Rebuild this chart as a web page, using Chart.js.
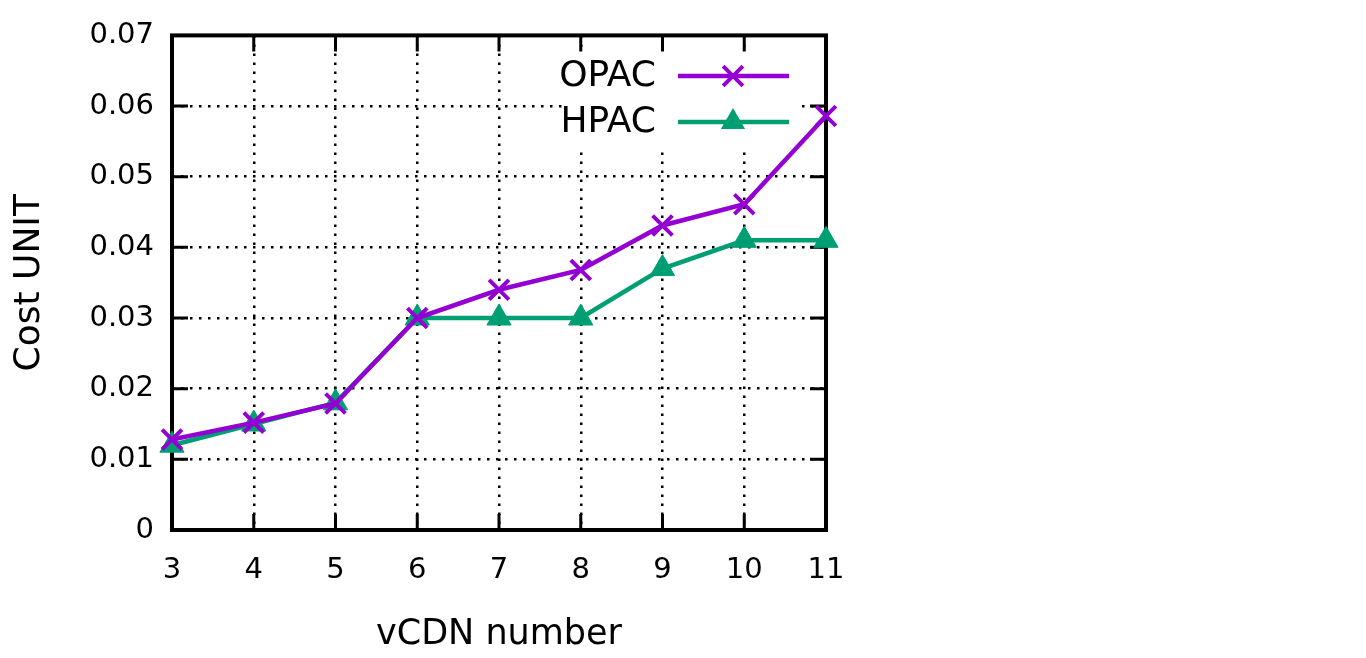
<!DOCTYPE html>
<html>
<head>
<meta charset="utf-8">
<script src="https://cdn.jsdelivr.net/npm/chart.js@4/dist/chart.umd.min.js"></script>
<style>
  html, body { margin: 0; padding: 0; background: #fff; }
</style>
</head>
<body>
<canvas id="myChart" width="1366" height="658"></canvas>
<script>
// values
const vcdnNumbers = ['3', '4', '5', '6', '7', '8', '9', '10', '11'];
const opacCost = [0.0128, 0.0152, 0.0179, 0.0300, 0.0340, 0.0368, 0.0431, 0.0461, 0.0586];
const hpacCost = [0.0120, 0.0150, 0.0180, 0.0300, 0.0300, 0.0300, 0.0370, 0.0410, 0.0410];
const yTickLabels = ['0', '0.01', '0.02', '0.03', '0.04', '0.05', '0.06', '0.07'];

const purple = '#9400d3';
const green = '#009e73';
const fontName = '"DejaVu Sans", Verdana, sans-serif';

// gnuplot style frame: thick border, inward ticks on all four sides, opaque key box
const gnuplotFrame = {
  id: 'gnuplotFrame',
  beforeDatasetsDraw(chart) {
    const ctx = chart.ctx;
    const a = chart.chartArea;
    const xs = chart.scales.x, ys = chart.scales.y;
    ctx.save();
    // key box hides the grid behind it
    ctx.fillStyle = '#fff';
    ctx.fillRect(562, 51, 238, 96);

    ctx.strokeStyle = '#000';
    ctx.lineWidth = 3;
    ctx.beginPath();
    const tl = 16;
    ys.ticks.forEach(t => {
      const y = ys.getPixelForValue(t.value);
      ctx.moveTo(a.left, y); ctx.lineTo(a.left + tl, y);
      ctx.moveTo(a.right, y); ctx.lineTo(a.right - tl, y);
    });
    xs.ticks.forEach((t, i) => {
      const x = xs.getPixelForValue(i);
      ctx.moveTo(x, a.bottom); ctx.lineTo(x, a.bottom - tl);
      ctx.moveTo(x, a.top); ctx.lineTo(x, a.top + tl);
    });
    ctx.stroke();

    ctx.lineWidth = 4;
    ctx.strokeRect(a.left, a.top, a.right - a.left, a.bottom - a.top);
    ctx.restore();
  },
  afterDatasetsDraw(chart) {
    const ctx = chart.ctx;
    ctx.save();
    ctx.font = '36px ' + fontName;
    ctx.fillStyle = '#000';
    ctx.textAlign = 'right';
    ctx.textBaseline = 'middle';
    const rows = [
      { label: 'OPAC', color: purple, style: 'cross', y: 76 },
      { label: 'HPAC', color: green, style: 'triangle', y: 122 }
    ];
    rows.forEach(r => {
      ctx.fillStyle = '#000';
      ctx.fillText(r.label, 656, r.y + 1);
      ctx.strokeStyle = r.color;
      ctx.fillStyle = r.color;
      ctx.lineWidth = 4.5;
      ctx.beginPath();
      ctx.moveTo(678, r.y); ctx.lineTo(789, r.y);
      ctx.stroke();
      const cx = 733, rad = 14;
      if (r.style === 'cross') {
        const d = rad * Math.SQRT1_2;
        ctx.lineWidth = 4;
        ctx.beginPath();
        ctx.moveTo(cx - d, r.y - d); ctx.lineTo(cx + d, r.y + d);
        ctx.moveTo(cx + d, r.y - d); ctx.lineTo(cx - d, r.y + d);
        ctx.stroke();
      } else {
        const s = Math.sin(Math.PI / 3) * rad;
        ctx.beginPath();
        ctx.moveTo(cx, r.y - rad);
        ctx.lineTo(cx + s, r.y + rad / 2);
        ctx.lineTo(cx - s, r.y + rad / 2);
        ctx.closePath();
        ctx.fill();
      }
    });
    ctx.restore();
  }
};

const ctx = document.getElementById('myChart');
new Chart(ctx, {
  type: 'line',
  data: {
    labels: vcdnNumbers,
    datasets: [{
      label: 'OPAC',
      data: opacCost,
      borderColor: purple,
      backgroundColor: purple,
      borderWidth: 4.5,
      pointStyle: 'crossRot',
      pointRadius: 14,
      pointBorderWidth: 4,
      pointHoverRadius: 14,
      clip: false
    }, {
      label: 'HPAC',
      data: hpacCost,
      borderColor: green,
      backgroundColor: green,
      borderWidth: 4.5,
      pointStyle: 'triangle',
      pointRadius: 14,
      pointBorderWidth: 1,
      pointHoverRadius: 14,
      clip: false
    }]
  },
  options: {
    responsive: false,
    animation: false,
    devicePixelRatio: 1,
    layout: { padding: { left: 0, right: 540, top: 35, bottom: 0 } },
    plugins: { legend: { display: false }, tooltip: { enabled: false } },
    scales: {
      x: {
        offset: false,
        afterFit: s => { s.height = 128; },
        grid: { color: '#000', lineWidth: 2.5, drawTicks: false },
        border: { display: false, dash: [2.5, 6.5] },
        ticks: { color: '#000', padding: 23, font: { family: fontName, size: 29 } },
        title: {
          display: true, text: 'vCDN number', color: '#000',
          font: { family: fontName, size: 35 }, padding: { top: 0, bottom: 2 }
        }
      },
      y: {
        min: 0,
        max: 0.07,
        afterFit: s => { s.width = 172; },
        grid: { color: '#000', lineWidth: 2.5, drawTicks: false },
        border: { display: false, dash: [2.5, 6.5] },
        ticks: {
          stepSize: 0.01, color: '#000', padding: 18,
          font: { family: fontName, size: 29 },
          callback: (v, i) => yTickLabels[i]
        },
        title: {
          display: true, text: 'Cost UNIT', color: '#000',
          font: { family: fontName, size: 36 }, padding: { top: 8, bottom: 0 }
        }
      }
    }
  },
  plugins: [gnuplotFrame]
});
</script>
</body>
</html>
